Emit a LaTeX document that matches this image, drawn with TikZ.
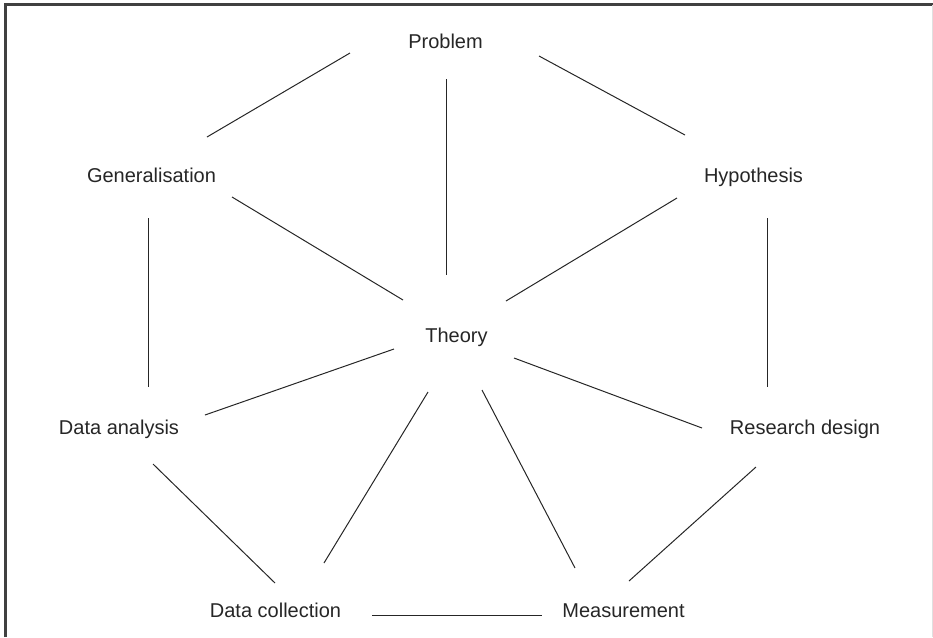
\documentclass[tikz,border=0pt]{standalone}
\usepackage{fontspec}
\setmainfont{Liberation Sans}
\usepackage{tikz}
\usetikzlibrary{calc}

\tikzset{
  lbl/.style={anchor=base,inner sep=0pt,text=black!85,font=\fontsize{15}{18}\selectfont},
  link/.style={line width=0.75pt,black!85},
}

\begin{document}
\begin{tikzpicture}[x=0.75pt,y=-0.75pt]
    \useasboundingbox (0,0) rectangle (933,637);
    % frame
    \draw[line width=1.6pt,black!75] (5.5,637) -- (5.5,4.5) -- (933,4.5);
    \draw[black!12] (932,4.5) -- (932,637);
    % labels
    \node[lbl] (prob) at (445.5,48) {Problem};
    \node[lbl] (gen) at (151.5,182) {Generalisation};
    \node[lbl] (hyp) at (753.5,182) {Hypothesis};
    \node[lbl] (theo) at (456.5,342) {Theory};
    \node[lbl] (dana) at (119,434) {Data analysis};
    \node[lbl] (rdes) at (805,434) {Research design};
    \node[lbl] (dcol) at (275.5,617) {Data collection};
    \node[lbl] (meas) at (623.5,617) {Measurement};
    % outer ring
    \draw[link] ([shift={(-95.5,5)}]prob.base) -- ([shift={(55.5,-45)}]gen.base);
    \draw[link] ([shift={(93.5,8)}]prob.base) -- ([shift={(-68.5,-47)}]hyp.base);
    \draw[link] ([shift={(-3.5,36)}]gen.base) -- ([shift={(29,-47)}]dana.base);
    \draw[link] ([shift={(13.5,36)}]hyp.base) -- ([shift={(-38,-47)}]rdes.base);
    \draw[link] ([shift={(34,30)}]dana.base) -- ([shift={(-0.5,-34)}]dcol.base);
    \draw[link] ([shift={(-49,33)}]rdes.base) -- ([shift={(5.5,-36)}]meas.base);
    \draw[link] ([shift={(96.5,-2)}]dcol.base) -- ([shift={(-81.5,-2)}]meas.base);
    % spokes to theory
    \draw[link] ([shift={(0.5,31)}]prob.base) -- ([shift={(-10.5,-67)}]theo.base);
    \draw[link] ([shift={(80.5,15)}]gen.base) -- ([shift={(-53.5,-42)}]theo.base);
    \draw[link] ([shift={(-76.5,16)}]hyp.base) -- ([shift={(49.5,-41)}]theo.base);
    \draw[link] ([shift={(-62.5,7)}]theo.base) -- ([shift={(86,-19)}]dana.base);
    \draw[link] ([shift={(57.5,16)}]theo.base) -- ([shift={(-103,-6)}]rdes.base);
    \draw[link] ([shift={(-28.5,50)}]theo.base) -- ([shift={(48.5,-54)}]dcol.base);
    \draw[link] ([shift={(25.5,48)}]theo.base) -- ([shift={(-48.5,-49)}]meas.base);
\end{tikzpicture}
\end{document}
